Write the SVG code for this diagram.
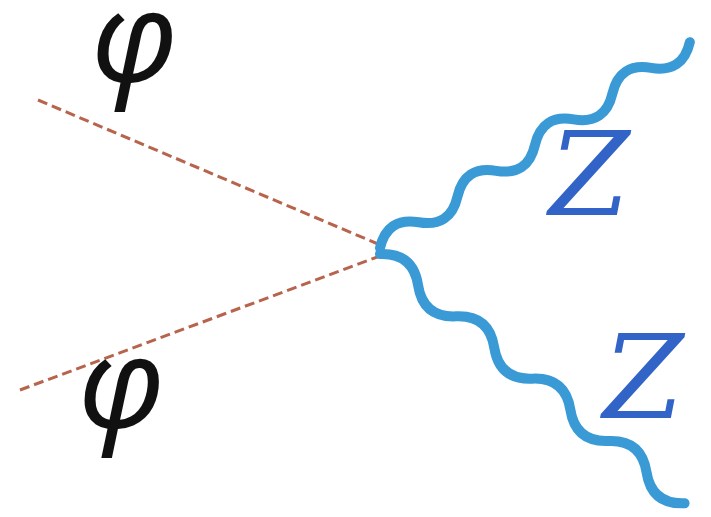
<svg xmlns="http://www.w3.org/2000/svg" width="711" height="517" viewBox="0 0 711 517">
<style>
.scalar{fill:none;stroke:#b8644c;stroke-width:3;stroke-dasharray:10 5}
.boson{fill:none;stroke:#3a9ad6;stroke-width:10;stroke-linecap:round;stroke-linejoin:round}
.phi{font-family:"Noto Sans","DejaVu Sans",sans-serif;font-style:italic;font-size:126px;fill:#111}
.z{font-family:"DejaVu Serif",serif;font-style:italic;font-size:116px;fill:#3264c8}
</style>
<rect width="711" height="517" fill="#fff"/>
<g id="connectors">
<line class="scalar" x1="38" y1="100" x2="378" y2="244"/>
<line class="scalar" x1="20" y1="390" x2="380" y2="256"/>
<path class="boson" transform="translate(380,248) rotate(-33.6)" d="M0,0 q23.25,-22 46.5,0 t46.5,0 t46.5,0 t46.5,0 t46.5,0 t46.5,0 t46.5,0 t46.5,0"/>
<path class="boson" transform="translate(380,254) rotate(39.3)" d="M0,0 q24.6,-22 49.2,0 t49.2,0 t49.2,0 t49.2,0 t49.2,0 t49.2,0 t49.2,0 t49.2,0"/>
</g>
<g id="phi1"><text class="phi" x="91" y="82">φ</text></g>
<g id="phi2"><text class="phi" x="78" y="428">φ</text></g>
<g id="z1"><text class="z" x="549" y="215">Z</text></g>
<g id="z2"><text class="z" x="603" y="418">Z</text></g>
</svg>
